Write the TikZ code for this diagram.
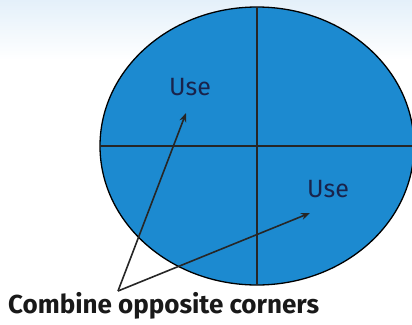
\documentclass[tikz,border=0pt]{standalone}
\usepackage{fontspec}
\setmainfont{Fira Sans}
\usetikzlibrary{arrows.meta}
\definecolor{fillblue}{RGB}{28,138,208}
\definecolor{usetext}{RGB}{25,35,75}
\definecolor{sky}{RGB}{228,240,250}
\begin{document}
\begin{tikzpicture}[x=1pt,y=-1pt,
  quarterline/.style={line width=1.3pt,black!85},
  arr/.style={line width=1.6pt,black!85,-{Stealth[length=9pt,width=7pt]}},
  uselabel/.style={font=\fontsize{25}{28}\selectfont,text=usetext,inner sep=0pt},
  caption/.style={font=\fontsize{26}{30}\selectfont\bfseries,text=black!90,inner sep=0pt}]
\useasboundingbox (0,0) rectangle (412,324);
\shade[top color=sky,bottom color=white] (0,0) rectangle (412,60);
\fill[white] (0,60) rectangle (412,324);
\begin{scope}
\clip (0,0) rectangle (412,324);
\draw[fill=fillblue,line width=1.3pt] (257,146) ellipse [x radius=157,y radius=139];
\draw[quarterline] (257,7) -- (257,285);
\draw[quarterline] (100,146) -- (412,146);
\end{scope}
\node[uselabel] (u1) at (190,87) {Use};
\node[uselabel] (u2) at (328,189) {Use};
\coordinate (tip1) at (186,113);
\coordinate (tip2) at (310,213);
\coordinate (src) at (118,291);
\node[caption,anchor=base west] (cap) at (8,313) {Combine opposite corners};
\draw[arr] (src) -- (tip1);
\draw[arr] (src) -- (tip2);
\end{tikzpicture}
\end{document}
